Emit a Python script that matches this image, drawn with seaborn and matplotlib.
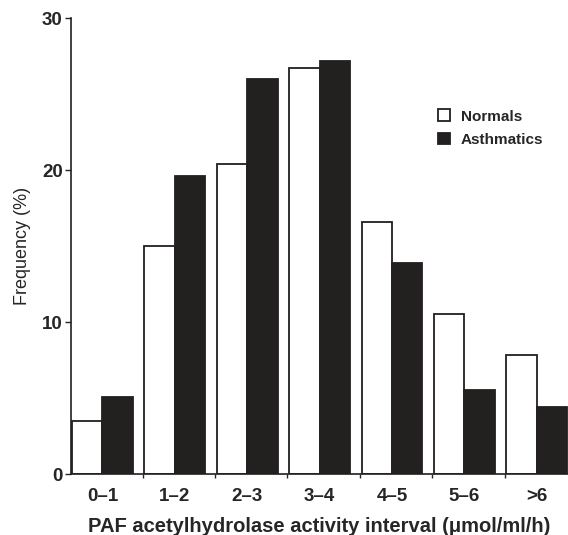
import pandas as pd
import seaborn as sns
import matplotlib.pyplot as plt

# 読み取った値 (%)
intervals = ["0–1", "1–2", "2–3", "3–4", "4–5", "5–6", ">6"]
normals = [3.5, 15.0, 20.4, 26.7, 16.6, 10.5, 7.8]
asthmatics = [5.1, 19.6, 26.0, 27.2, 13.9, 5.5, 4.4]

df = pd.DataFrame({
    "interval": intervals * 2,
    "freq": normals + asthmatics,
    "group": ["Normals"] * len(intervals) + ["Asthmatics"] * len(intervals),
})

sns.set_style("ticks")
plt.rcParams["font.family"] = ["Liberation Sans", "DejaVu Sans"]

fig = plt.figure(figsize=(5.68, 5.35), dpi=100)
ax = fig.add_axes([0.125, 0.114, 0.875, 0.852])

sns.barplot(data=df, x="interval", y="freq", hue="group",
            palette={"Normals": "white", "Asthmatics": "#231f20"},
            edgecolor="#231f20", linewidth=1.3, width=0.84, gap=0,
            ax=ax)

ax.set_xlim(-0.435, 6.43)
ax.set_ylim(0, 30)
ax.set_yticks([0, 10, 20, 30])
ax.tick_params(axis="y", length=4, width=1, labelsize=13.5, pad=2)
for lab in ax.get_yticklabels():
    lab.set_fontweight("bold")
ax.tick_params(axis="x", which="major", length=0, labelsize=13.5, pad=10)
for lab in ax.get_xticklabels():
    lab.set_fontweight("bold")
# 区間の境目に小さい目盛り
ax.set_xticks([i + 0.555 for i in range(6)], minor=True)
ax.tick_params(axis="x", which="minor", length=3, width=1)

sns.despine(ax=ax)
for s in ["left", "bottom"]:
    ax.spines[s].set_linewidth(1.2)
    ax.spines[s].set_color("#231f20")

ax.set_xlabel("PAF acetylhydrolase activity interval (μmol/ml/h)",
              fontsize=14.5, fontweight="bold", labelpad=9)
ax.set_ylabel("Frequency (%)", fontsize=13, labelpad=8)

sns.move_legend(ax, loc="upper left", bbox_to_anchor=(0.71, 0.83),
                title=None, frameon=False, handlelength=0.8,
                handleheight=0.8, handletextpad=0.7, labelspacing=0.6,
                prop={"weight": "bold", "size": 11})

fig.savefig("out.png", dpi=100)
